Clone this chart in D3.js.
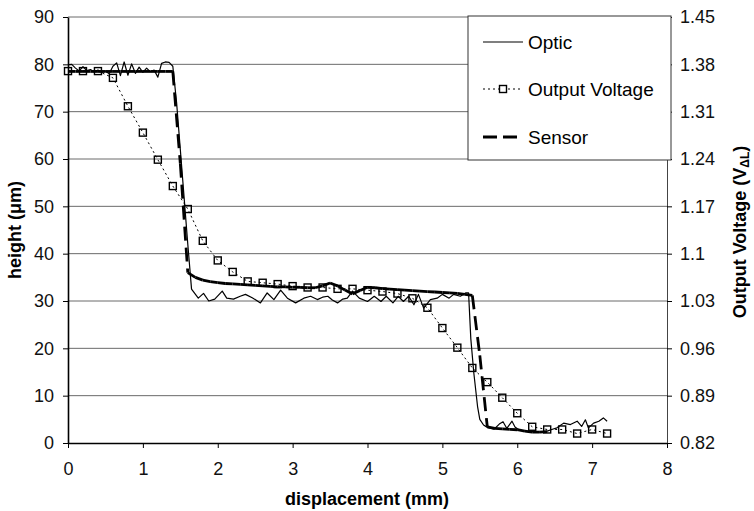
<!DOCTYPE html>
<html>
<head>
<meta charset="utf-8">
<script src="https://cdn.jsdelivr.net/npm/d3@7"></script>
<style>
  body { margin: 0; background: #fff; }
  svg { display: block; font-family: "Liberation Sans", Arial, sans-serif; }
</style>
</head>
<body>
<div id="okvir"></div>
<script>
// podatci ocitani sa slike
const opticX = [0, 0.05, 0.1, 0.15, 0.2, 0.25, 0.3, 0.35, 0.4, 0.45, 0.5, 0.55, 0.6, 0.65, 0.7, 0.75, 0.8, 0.85, 0.9, 0.95,
  1.0, 1.05, 1.1, 1.15, 1.2, 1.25, 1.3, 1.35, 1.4, 1.45, 1.5, 1.55, 1.6, 1.65, 1.74, 1.81, 1.88, 1.96, 2.06, 2.12,
  2.21, 2.3, 2.37, 2.46, 2.57, 2.66, 2.75, 2.84, 2.93, 3.04, 3.15, 3.24, 3.33, 3.4, 3.47, 3.53, 3.6, 3.67, 3.73, 3.8,
  3.89, 4.0, 4.09, 4.18, 4.25, 4.34, 4.41, 4.48, 4.55, 4.62, 4.68, 4.75, 4.84, 4.93, 5.0, 5.09, 5.15, 5.24, 5.31, 5.35,
  5.38, 5.42, 5.47, 5.5, 5.55, 5.6, 5.69, 5.76, 5.81, 5.86, 5.93, 5.97, 6.02, 6.1, 6.2, 6.3, 6.4, 6.47, 6.53, 6.62,
  6.71, 6.8, 6.86, 6.91, 6.95, 7.02, 7.09, 7.15, 7.2];
const opticY = [79.9, 80.0, 79.2, 78.6, 79.5, 78.7, 78.9, 78.4, 78.8, 78.3, 78.6, 78.0, 79.6, 80.3, 77.6, 80.5, 77.7, 80.1, 78.1, 79.4,
  78.3, 79.2, 78.4, 78.8, 77.3, 80.2, 80.5, 80.4, 79.6, 72, 62, 52, 42, 32.5, 30.6, 31.6, 30.0, 30.4, 32.1, 30.6,
  30.4, 31.0, 31.4, 30.7, 29.6, 31.7, 30.3, 32.3, 30.6, 29.6, 30.6, 31.0, 30.3, 30.8, 31.0, 30.2, 29.6, 30.4, 30.6, 32.1,
  30.6, 29.9, 31.0, 29.9, 31.0, 29.6, 31.0, 29.9, 31.0, 29.2, 31.4, 28.5, 30.3, 30.6, 31.4, 30.6, 31.4, 31.0, 31.7, 31.7,
  22, 14.8, 7.7, 5.0, 3.8, 3.3, 2.9, 4.0, 4.5, 3.1, 4.6, 3.4, 2.8, 2.5, 2.4, 2.3, 2.5, 2.9, 3.2, 4.2,
  3.9, 4.6, 3.5, 4.9, 3.2, 4.2, 4.6, 5.3, 4.6];

const naponX = [0, 0.2, 0.4, 0.6, 0.8, 1.0, 1.2, 1.4, 1.6, 1.8, 2.0, 2.2, 2.4, 2.6, 2.8, 3.0, 3.2, 3.4, 3.6, 3.8,
  4.0, 4.2, 4.4, 4.6, 4.8, 5.0, 5.2, 5.4, 5.6, 5.8, 6.0, 6.2, 6.4, 6.6, 6.8, 7.0, 7.2];
const naponV = [1.370, 1.370, 1.370, 1.360, 1.318, 1.279, 1.239, 1.200, 1.166, 1.119, 1.090, 1.073, 1.059, 1.057, 1.055, 1.052, 1.050, 1.050, 1.048, 1.048,
  1.046, 1.044, 1.041, 1.034, 1.020, 0.990, 0.961, 0.931, 0.910, 0.887, 0.864, 0.844, 0.840, 0.840, 0.834, 0.840, 0.834];

const senzorX = [0, 0.1, 0.2, 0.3, 0.4, 0.5, 0.6, 0.7, 0.8, 0.9, 1.0, 1.1, 1.2, 1.3, 1.4, 1.5, 1.6, 1.7, 1.8, 1.9,
  2.0, 2.1, 2.2, 2.3, 2.4, 2.5, 2.6, 2.7, 2.8, 2.9, 3.0, 3.1, 3.2, 3.3, 3.4, 3.5, 3.6, 3.7, 3.8, 3.9,
  4.0, 4.1, 4.2, 4.3, 4.4, 4.5, 4.6, 4.7, 4.8, 4.9, 5.0, 5.1, 5.2, 5.3, 5.4, 5.5, 5.6, 5.7, 5.8, 5.9,
  6.0, 6.1, 6.2, 6.3, 6.4];
const senzorY = [78.5, 78.5, 78.5, 78.5, 78.5, 78.5, 78.5, 78.5, 78.5, 78.5, 78.5, 78.5, 78.5, 78.5, 78.5, 59, 36.0, 35.0, 34.4, 34.1,
  33.9, 33.7, 33.6, 33.5, 33.4, 33.3, 33.2, 33.1, 33.0, 33.0, 32.9, 32.9, 32.8, 32.8, 33.2, 33.8, 33.2, 32.3, 31.5, 32.2,
  32.9, 32.8, 32.6, 32.5, 32.4, 32.3, 32.2, 32.1, 32.0, 31.9, 31.8, 31.7, 31.6, 31.4, 31.2, 18.5, 3.4, 3.1, 3.0, 2.9,
  2.8, 2.5, 2.3, 2.3, 2.4];

const xOznake = [0, 1, 2, 3, 4, 5, 6, 7, 8];
const yOznake = [0, 10, 20, 30, 40, 50, 60, 70, 80, 90];
const yDesnoOznake = [0.82, 0.89, 0.96, 1.03, 1.1, 1.17, 1.24, 1.31, 1.38, 1.45];

const crtajGraf = () => {

  const optic = opticX.map((x, i) => ({ x: x, y: opticY[i] }));
  const napon = naponX.map((x, i) => ({ x: x, y: naponV[i] }));
  const senzor = senzorX.map((x, i) => ({ x: x, y: senzorY[i] }));

  // dimenzije grafa
  const dimenzije = {
    width: 754,
    height: 511,
    margin: { top: 17, right: 87, bottom: 68, left: 68 }
  };
  dimenzije.boundsWidth = dimenzije.width - dimenzije.margin.left - dimenzije.margin.right;
  dimenzije.boundsHeight = dimenzije.height - dimenzije.margin.top - dimenzije.margin.bottom;

  const okvir = d3.select("#okvir")
    .append("svg")
    .attr("width", dimenzije.width)
    .attr("height", dimenzije.height);

  const granice = okvir.append("g")
    .attr("transform", `translate(${dimenzije.margin.left},${dimenzije.margin.top})`);

  const xMjerilo = d3.scaleLinear().domain([0, 8]).range([0, dimenzije.boundsWidth]);
  const yMjerilo = d3.scaleLinear().domain([0, 90]).range([dimenzije.boundsHeight, 0]);
  const yDesnoMjerilo = d3.scaleLinear().domain([0.82, 1.45]).range([dimenzije.boundsHeight, 0]);

  // mreza
  granice.append("g")
    .selectAll("line")
    .data(yOznake.filter(d => d > 0))
    .join("line")
    .attr("x1", 0)
    .attr("x2", dimenzije.boundsWidth)
    .attr("y1", d => yMjerilo(d))
    .attr("y2", d => yMjerilo(d))
    .attr("stroke", "#6a6a6a")
    .attr("stroke-width", 1);

  // Output Voltage
  const linijaNapon = d3.line()
    .x(d => xMjerilo(d.x))
    .y(d => yDesnoMjerilo(d.y));

  granice.append("path")
    .attr("d", linijaNapon(napon))
    .attr("fill", "none")
    .attr("stroke", "#000")
    .attr("stroke-width", 1)
    .attr("stroke-dasharray", "2,3");

  // Optic
  const linijaOptic = d3.line()
    .x(d => xMjerilo(d.x))
    .y(d => yMjerilo(d.y));

  granice.append("path")
    .attr("d", linijaOptic(optic))
    .attr("fill", "none")
    .attr("stroke", "#000")
    .attr("stroke-width", 1.2)
    .attr("stroke-linejoin", "round");

  // Sensor - svaki segment zasebno (crtice krecu ispocetka)
  granice.append("g")
    .selectAll("line")
    .data(d3.pairs(senzor))
    .join("line")
    .attr("x1", d => xMjerilo(d[0].x))
    .attr("y1", d => yMjerilo(d[0].y))
    .attr("x2", d => xMjerilo(d[1].x))
    .attr("y2", d => yMjerilo(d[1].y))
    .attr("stroke", "#000")
    .attr("stroke-width", 2.8)
    .attr("stroke-dasharray", "14,7");

  // kvadratici
  granice.append("g")
    .selectAll("rect")
    .data(napon)
    .join("rect")
    .attr("x", d => xMjerilo(d.x) - 3.5)
    .attr("y", d => yDesnoMjerilo(d.y) - 3.5)
    .attr("width", 7)
    .attr("height", 7)
    .attr("fill", "none")
    .attr("stroke", "#000")
    .attr("stroke-width", 1.4);

  // osi
  const yOs = granice.append("g")
    .call(d3.axisLeft(yMjerilo).tickValues(yOznake).tickSize(5).tickSizeOuter(0).tickPadding(9));
  yOs.select(".domain").attr("stroke-width", 1.6);

  const xOs = granice.append("g")
    .attr("transform", `translate(0,${dimenzije.boundsHeight})`)
    .call(d3.axisBottom(xMjerilo).tickValues(xOznake).tickSize(5).tickSizeOuter(0).tickPadding(14));
  xOs.select(".domain").attr("stroke-width", 1.6);

  const yDesnoOs = granice.append("g")
    .attr("transform", `translate(${dimenzije.boundsWidth},0)`)
    .call(d3.axisRight(yDesnoMjerilo).tickValues(yDesnoOznake).tickFormat(d3.format("")).tickSize(5).tickSizeOuter(0).tickPadding(8));
  yDesnoOs.select(".domain").attr("stroke", "#444");

  granice.selectAll(".tick text")
    .attr("font-size", 18)
    .attr("font-family", "Liberation Sans, Arial, sans-serif")
    .attr("fill", "#111");

  // naslovi osi
  okvir.append("text")
    .attr("x", 367)
    .attr("y", 505)
    .attr("text-anchor", "middle")
    .attr("font-size", 18)
    .attr("font-weight", "bold")
    .text("displacement (mm)");

  okvir.append("text")
    .attr("transform", "translate(21,230) rotate(-90)")
    .attr("text-anchor", "middle")
    .attr("font-size", 18)
    .attr("font-weight", "bold")
    .html("height (&#956;m)");

  const desniNaslov = okvir.append("text")
    .attr("transform", "translate(746,232) rotate(-90)")
    .attr("text-anchor", "middle")
    .attr("font-size", 18)
    .attr("font-weight", "bold");
  desniNaslov.append("tspan").text("Output Voltage (V");
  desniNaslov.append("tspan").attr("font-size", 12).attr("dy", 3).text("\u0394L");
  desniNaslov.append("tspan").attr("dy", -3).text(")");

  // legenda
  const legenda = okvir.append("g");
  legenda.append("rect")
    .attr("x", 468)
    .attr("y", 16)
    .attr("width", 203)
    .attr("height", 144)
    .attr("fill", "#fff")
    .attr("stroke", "#333")
    .attr("stroke-width", 1);

  const stavke = [
    { naziv: "Optic", y: 42 },
    { naziv: "Output Voltage", y: 89 },
    { naziv: "Sensor", y: 137 }
  ];

  legenda.selectAll("text.stavka")
    .data(stavke)
    .join("text")
    .attr("class", "stavka")
    .attr("x", 528)
    .attr("y", d => d.y + 7)
    .attr("font-size", 19)
    .text(d => d.naziv);

  legenda.append("line")
    .attr("x1", 483).attr("x2", 523).attr("y1", 42).attr("y2", 42)
    .attr("stroke", "#000").attr("stroke-width", 1.2);
  legenda.append("line")
    .attr("x1", 483).attr("x2", 523).attr("y1", 89).attr("y2", 89)
    .attr("stroke", "#000").attr("stroke-width", 1).attr("stroke-dasharray", "2,3");
  legenda.append("rect")
    .attr("x", 499.5).attr("y", 85.5).attr("width", 7).attr("height", 7)
    .attr("fill", "#fff").attr("stroke", "#000").attr("stroke-width", 1.4);
  legenda.append("line")
    .attr("x1", 483).attr("x2", 523).attr("y1", 137).attr("y2", 137)
    .attr("stroke", "#000").attr("stroke-width", 2.8).attr("stroke-dasharray", "14,6");
};

crtajGraf();
</script>
</body>
</html>
